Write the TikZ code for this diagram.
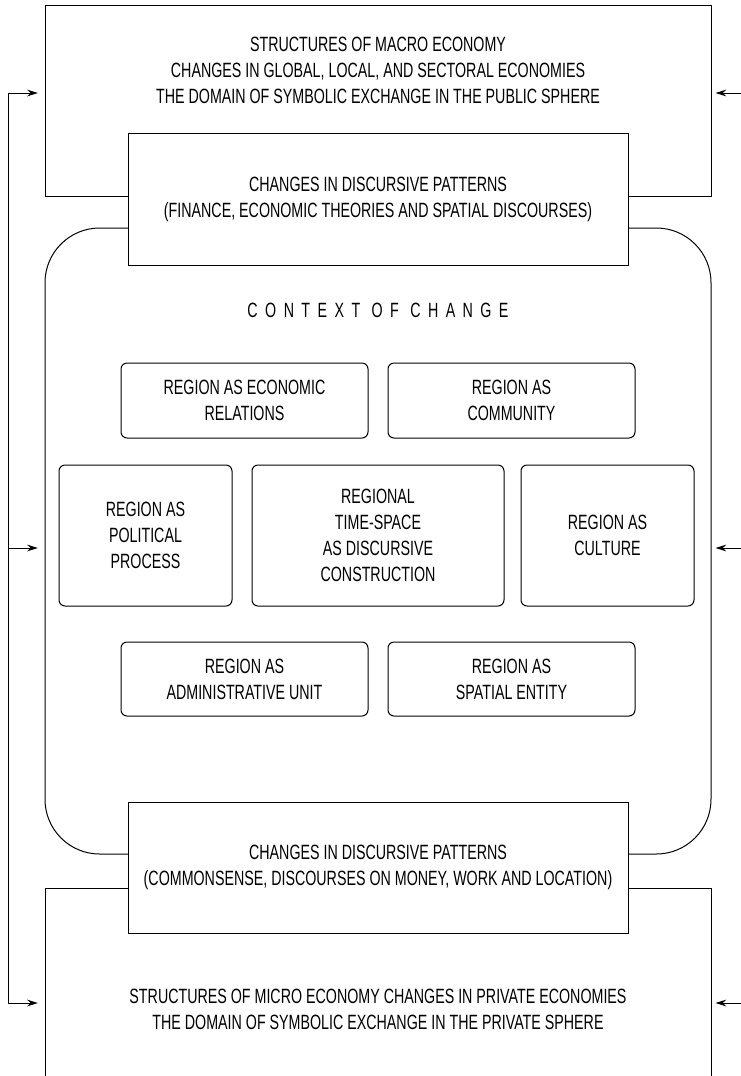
\documentclass[tikz,border=0pt]{standalone}
\usepackage{fontspec}
\setmainfont{Liberation Sans}[FakeStretch=0.69]
\usetikzlibrary{arrows.meta}

\begin{document}
\begin{tikzpicture}[x=0.75pt,y=-0.75pt,line width=0.75pt,
  >={Stealth[length=8pt,width=5pt]},
  every node/.style={font=\fontsize{15.5pt}{19.5pt}\selectfont,align=center,inner sep=0pt}]

% one pixel of the page
\def\sz{0.75pt}
% node style definition
\tikzstyle{frame} = [
	draw, fill=white, rectangle,
	minimum width=500*\sz, minimum height=132*\sz ];
\tikzstyle{region} = [
	draw, fill=white, rectangle, rounded corners=4.5pt ];
\tikzstyle{plain} = [draw=none,fill=none];

\useasboundingbox (0,0) rectangle (741,1076);

% outer frames
\node[draw, rectangle, minimum width=666*\sz, minimum height=191*\sz] (macro) at (378,100.5) {};
\node[draw, rectangle, rounded corners=41pt,
	minimum width=666*\sz, minimum height=626*\sz] (context) at (378,541) {};
\draw (45,1076) |- (711,888) -- (711,1076);

\node[plain] (macrotxt) at (378,70) {STRUCTURES OF MACRO ECONOMY\\
	CHANGES IN GLOBAL, LOCAL, AND SECTORAL ECONOMIES\\
	THE DOMAIN OF SYMBOLIC EXCHANGE IN THE PUBLIC SPHERE};
\node[plain] (microtxt) at (378,1009) {STRUCTURES OF MICRO ECONOMY CHANGES IN PRIVATE ECONOMIES\\
	THE DOMAIN OF SYMBOLIC EXCHANGE IN THE PRIVATE SPHERE};

% discursive patterns
\node[frame] (disctop) at (378,199) {CHANGES IN DISCURSIVE PATTERNS\\
	(FINANCE, ECONOMIC THEORIES AND SPATIAL DISCOURSES)};
\node[frame, minimum height=131*\sz] (discbot) at (378,867.5) {CHANGES IN DISCURSIVE PATTERNS\\
	(COMMONSENSE, DISCOURSES ON MONEY, WORK AND LOCATION)};

% context of change
\node[plain] (ctxtitle) at (378,310) {\addfontfeature{LetterSpace=36}CONTEXT OF CHANGE};

\node[region, minimum width=247*\sz, minimum height=75*\sz] (econ) at (244.5,400.5) {REGION AS ECONOMIC\\ RELATIONS};
\node[region, minimum width=247*\sz, minimum height=75*\sz] (comm) at (511.5,400.5) {REGION AS\\ COMMUNITY};

\node[region, minimum width=173*\sz, minimum height=141*\sz] (polit) at (145.5,535.5) {REGION AS\\ POLITICAL\\ PROCESS};
\node[region, minimum width=252*\sz, minimum height=141*\sz] (tspace) at (378,535.5) {REGIONAL\\ TIME-SPACE\\ AS DISCURSIVE\\ CONSTRUCTION};
\node[region, minimum width=173*\sz, minimum height=141*\sz] (cult) at (607.5,535.5) {REGION AS\\ CULTURE};

\node[region, minimum width=247*\sz, minimum height=74*\sz] (admin) at (244.5,679) {REGION AS\\ ADMINISTRATIVE UNIT};
\node[region, minimum width=247*\sz, minimum height=74*\sz] (spat) at (511.5,679) {REGION AS\\ SPATIAL ENTITY};

% feedback arrows
\coordinate (fbtop) at (8,93);
\coordinate (fbmid) at (8,548);
\coordinate (fbbot) at (8,1003);
\coordinate (intop) at (741,93);
\coordinate (inmid) at (741,548);
\coordinate (inbot) at (741,1003);

\draw (fbtop) -- (fbbot);
\draw[->, shorten >=5pt] (fbtop) -- (macro.west |- fbtop);
\draw[->, shorten >=5pt] (fbmid) -- (context.west |- fbmid);
\draw[->, shorten >=5pt] (fbbot) -- (context.west |- fbbot);

\draw[->, shorten >=3pt] (intop) -- (macro.east |- intop);
\draw[->, shorten >=3pt] (inmid) -- (context.east |- inmid);
\draw[->, shorten >=3pt] (inbot) -- (context.east |- inbot);

\end{tikzpicture}
\end{document}
